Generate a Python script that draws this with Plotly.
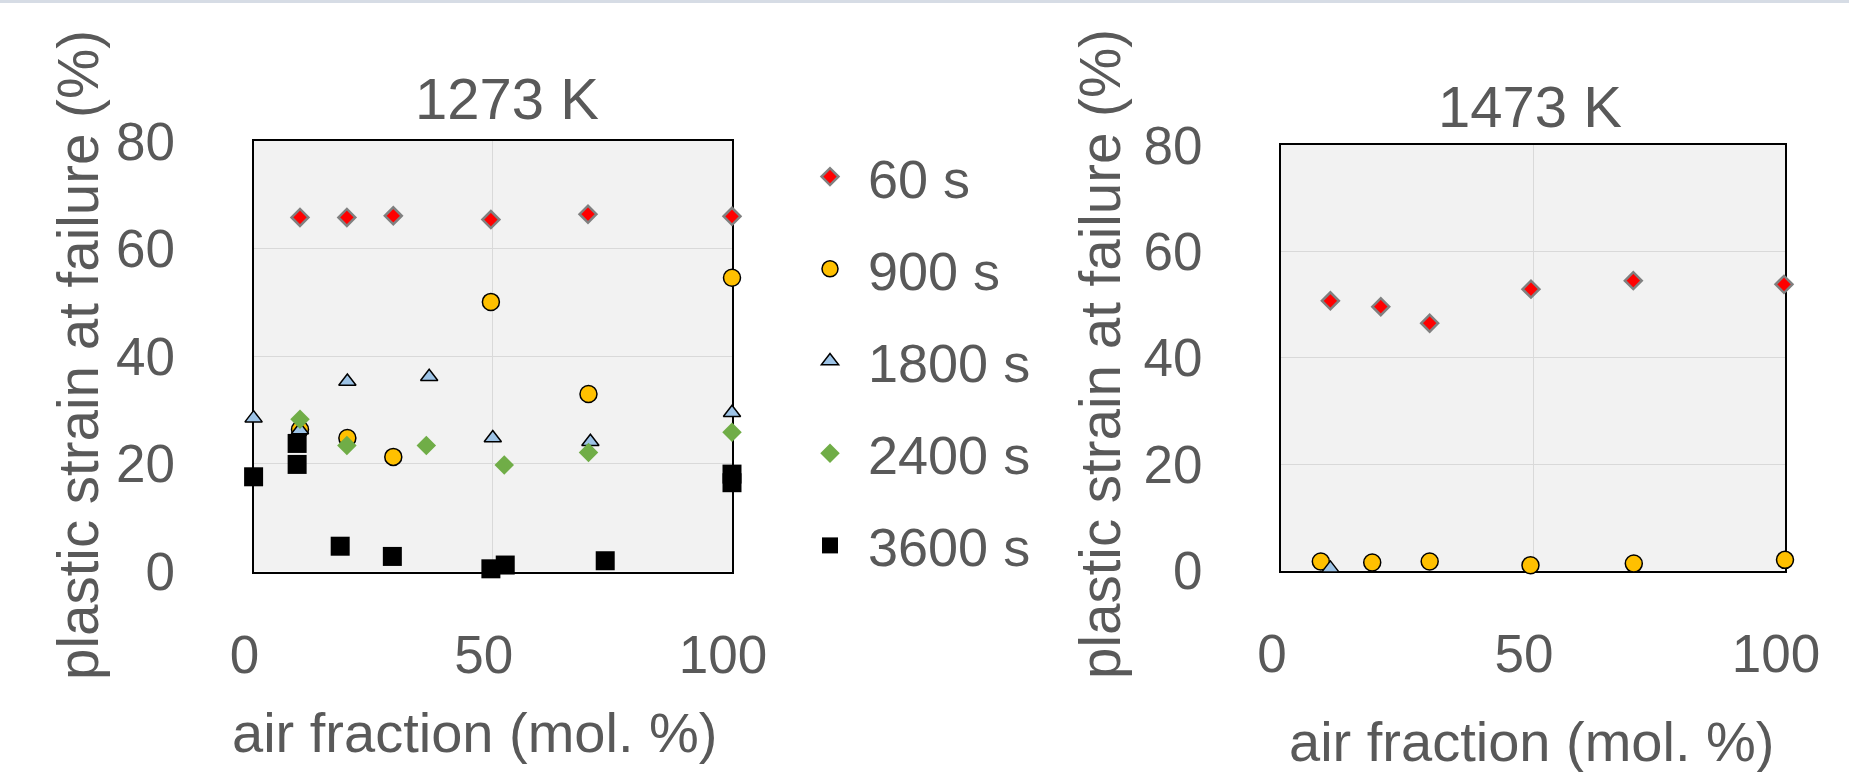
import plotly.graph_objects as go

# ---------------- data ----------------
# 1273 K panel
x60_1273 = [9.7, 19.5, 29.2, 49.6, 69.9, 100]
y60_1273 = [65.8, 65.8, 66.1, 65.4, 66.4, 66.0]

x900_1273 = [9.7, 19.6, 29.2, 49.6, 70.0, 100]
y900_1273 = [26.4, 24.8, 21.3, 50.1, 33.0, 54.6]

x1800_1273 = [0, 9.7, 19.6, 36.7, 50.0, 70.4, 100]
y1800_1273 = [28.5, 26.3, 35.3, 36.2, 24.8, 24.1, 29.5]

x2400_1273 = [9.7, 19.5, 36.1, 52.4, 70.0, 100]
y2400_1273 = [28.3, 23.4, 23.4, 19.8, 22.1, 25.9]

x3600_1273 = [0, 9.1, 9.1, 18.1, 29.0, 49.6, 52.6, 73.5, 100, 100]
y3600_1273 = [17.6, 23.8, 19.9, 4.7, 2.8, 0.5, 1.2, 2.0, 18.1, 16.5]

# 1473 K panel
x60_1473 = [9.8, 19.8, 29.5, 49.6, 69.9, 99.8]
y60_1473 = [50.7, 49.6, 46.5, 52.9, 54.5, 53.8]

x900_1473 = [7.9, 18.1, 29.5, 49.5, 70.0, 100]
y900_1473 = [1.7, 1.5, 1.7, 1.0, 1.3, 2.0]

x1800_1473 = [9.8]
y1800_1473 = [0.4]

series_names = ["60 s", "900 s", "1800 s", "2400 s", "3600 s"]
panel_titles = ["1273 K", "1473 K"]
x_ticks = [0, 50, 100]
y_ticks = [0, 20, 40, 60, 80]
x_title = "air fraction (mol. %)"
y_title = "plastic strain at failure (%)"

# ---------------- styles ----------------
W, H = 1849, 772
FONT = "Liberation Sans, Arial, sans-serif"
TXT = "#595959"

styles = {
    "60 s": dict(symbol="diamond", size=13, color="#FF0000", line=dict(color="#808080", width=2.5)),
    "900 s": dict(symbol="circle", size=17, color="#FFC000", line=dict(color="#000000", width=1.5)),
    "1800 s": dict(symbol="triangle-up", size=15, color="#9DC3E6", line=dict(color="#000000", width=1.5)),
    "2400 s": dict(symbol="diamond", size=15, color="#70AD47", line=dict(width=0)),
    "3600 s": dict(symbol="square", size=19, color="#000000", line=dict(width=0)),
}

fig = go.Figure()

left = [(x60_1273, y60_1273), (x900_1273, y900_1273), (x1800_1273, y1800_1273),
        (x2400_1273, y2400_1273), (x3600_1273, y3600_1273)]
for name, (xs, ys) in zip(series_names, left):
    fig.add_trace(go.Scatter(x=xs, y=ys, mode="markers", name=name, marker=styles[name],
                             xaxis="x", yaxis="y", cliponaxis=False,
                             legendgroup=name, showlegend=True))

right = [(x60_1473, y60_1473), (x900_1473, y900_1473), (x1800_1473, y1800_1473)]
for name, (xs, ys) in zip(series_names[:3], right):
    fig.add_trace(go.Scatter(x=xs, y=ys, mode="markers", name=name, marker=styles[name],
                             xaxis="x2", yaxis="y2", cliponaxis=False,
                             legendgroup=name, showlegend=False))

def xax(domain, anchor):
    return dict(domain=domain, range=[0, 100], tickvals=x_ticks, showgrid=True,
                gridcolor="#D9D9D9", gridwidth=1, showline=True, mirror=True,
                linecolor="#000000", linewidth=2, zeroline=False, ticks="",
                tickfont=dict(family=FONT, size=53, color=TXT), ticklabelstandoff=36,
                ticklabelshift=-9,
                anchor=anchor, automargin=False, layer="below traces", fixedrange=True)

def yax(domain, anchor):
    return dict(domain=domain, range=[0, 80], tickvals=y_ticks, showgrid=True,
                gridcolor="#D9D9D9", gridwidth=1, showline=True, mirror=True,
                linecolor="#000000", linewidth=2, zeroline=False, ticks="",
                tickfont=dict(family=FONT, size=53, color=TXT), ticklabelstandoff=66,
                anchor=anchor, automargin=False, layer="below traces", fixedrange=True)

xd1 = [253.6 / W, 732 / W]
xd2 = [1281 / W, 1785 / W]
yd1 = [1 - 571.5 / H, 1 - 141 / H]
yd2 = [1 - 570.5 / H, 1 - 145 / H]

ann = []
def add_text(text, x, y, size, angle=0):
    ann.append(dict(text=text, x=x / W, y=1 - y / H, xref="paper", yref="paper",
                    xanchor="center", yanchor="middle", showarrow=False, textangle=angle,
                    font=dict(family=FONT, size=size, color=TXT)))

add_text(panel_titles[0], 507, 98, 58)
add_text(panel_titles[1], 1530, 106, 58)
add_text(x_title, 474.5, 732, 56)
add_text(x_title, 1531, 741, 56)
add_text(y_title, 78, 355, 56.5, -90)
add_text(y_title, 1100, 354, 56.5, -90)

fig.update_layout(
    template="none",
    width=W, height=H, margin=dict(l=0, r=0, t=0, b=0, pad=0, autoexpand=False),
    paper_bgcolor="#FFFFFF", plot_bgcolor="#F2F2F2",
    xaxis=xax(xd1, "y"), yaxis=yax(yd1, "x"),
    xaxis2=xax(xd2, "y2"), yaxis2=yax(yd2, "x2"),
    annotations=ann,
    showlegend=True,
    legend=dict(x=792 / W, y=1 - 135 / H, xanchor="left", yanchor="top",
                font=dict(family=FONT, size=54, color=TXT),
                traceorder="grouped", tracegroupgap=19, itemwidth=66,
                bgcolor="rgba(0,0,0,0)", borderwidth=0),
    shapes=[dict(type="rect", xref="paper", yref="paper", x0=0, x1=1,
                 y0=1 - 3 / H, y1=1, fillcolor="#D6DCE5", line=dict(width=0))],
)

fig.write_html("out.html", config={"displayModeBar": False},
               post_script="document.body.style.margin='0px';")
